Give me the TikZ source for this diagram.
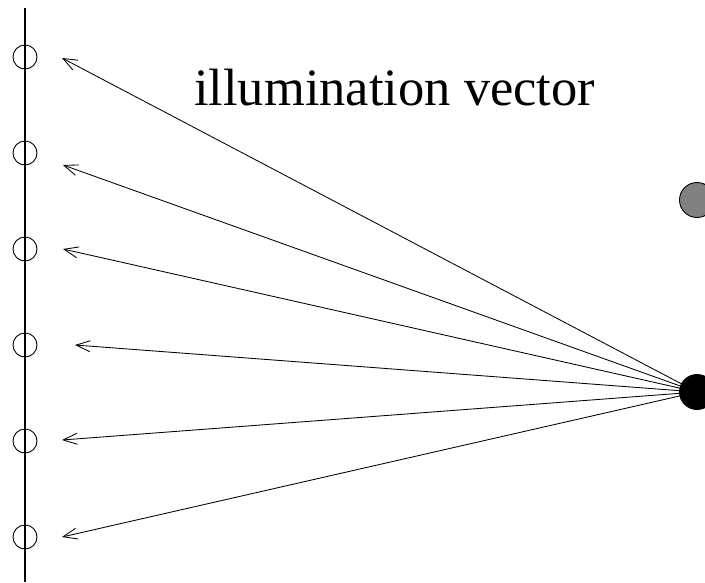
\documentclass[tikz,border=0pt]{standalone}
\usepackage{fontspec}
\setmainfont{Liberation Serif}
\usetikzlibrary{arrows.meta,backgrounds}

\begin{document}
\begin{tikzpicture}[
x=1pt,y=-1pt,
sensor/.style={draw,circle,minimum size=24pt,inner sep=0pt,line width=0.9pt},
source/.style={draw,circle,minimum size=35pt,inner sep=0pt,line width=0.9pt},
arr/.style={-{Straight Barb[length=14pt,width=11pt]},line width=0.85pt}
]
\useasboundingbox (0,0) rectangle (705,582);
\draw[line width=1.2pt] (25,8) -- (25,582);
\foreach \i/\y in {1/57,2/153,3/249,4/345,5/441,6/537}
  \node[sensor] (s\i) at (25,\y) {};

\node[source,fill=gray] (mirror) at (697,200) {};
\node[source,fill=black] (src) at (697,392) {};

% arrow ends
\coordinate (t1) at (62,58);
\coordinate (t2) at (63,165);
\coordinate (t3) at (63,249);
\coordinate (t4) at (75,345);
\coordinate (t5) at (62,440);
\coordinate (t6) at (62,537);

\begin{pgfonlayer}{background}
\foreach \i in {1,...,6}
  \draw[arr] (src.center) -- (t\i);
\end{pgfonlayer}

\node[anchor=base west,inner sep=0pt,font=\fontsize{52.5}{60}\selectfont] (title) at (194,105) {illumination vector};
\end{tikzpicture}
\end{document}
